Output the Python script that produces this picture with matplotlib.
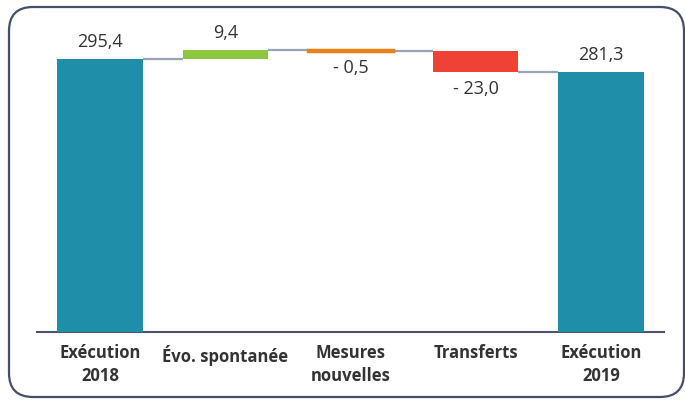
import matplotlib.pyplot as plt
import matplotlib.transforms as mtransforms
from matplotlib.patches import FancyBboxPatch

# Waterfall data
categories = ["Exécution\n2018", "Évo. spontanée", "Mesures\nnouvelles", "Transferts", "Exécution\n2019"]
values = [295.4, 9.4, -0.5, -23.0, 281.3]
kinds = ["total", "delta", "delta", "delta", "total"]
labels = ["295,4", "9,4", "- 0,5", "- 23,0", "281,3"]
colors = ["#1f8ea8", "#8dc63f", "#e8821e", "#ef4136", "#1f8ea8"]

fig = plt.figure(figsize=(6.85, 4), dpi=100)
ax = fig.add_axes([37 / 685, 68 / 400, 627 / 685, 312 / 400])

width = 0.68
bottoms, heights, levels = [], [], []
level = 0.0
for v, k in zip(values, kinds):
    if k == "total":
        bottoms.append(0.0)
        heights.append(v)
        level = v
    else:
        bottoms.append(level if v > 0 else level + v)
        heights.append(abs(v))
        level += v
    levels.append(level)

x = list(range(len(values)))
bars = ax.bar(x, heights, bottom=bottoms, width=width, color=colors, zorder=3)
# very small change still needs to be visible
bars[2].set_edgecolor(colors[2])
bars[2].set_linewidth(2.5)

# connectors between consecutive bars
for i in range(len(values) - 1):
    ax.plot([i + width / 2, i + 1 - width / 2], [levels[i], levels[i]],
            color="#9aa3b5", lw=1.6, zorder=2, solid_capstyle="butt")

# value labels
for i, (v, k, lab) in enumerate(zip(values, kinds, labels)):
    top = bottoms[i] + heights[i]
    if v >= 0:
        ax.annotate(lab, (i, top), xytext=(0, 6), textcoords="offset points",
                    ha="center", va="bottom", fontsize=13, color="#333333",
                    family="Open Sans")
    else:
        ax.annotate(lab, (i, bottoms[i]), xytext=(0, -6), textcoords="offset points",
                    ha="center", va="top", fontsize=13, color="#333333",
                    family="Open Sans")

ax.set_xlim(-0.503, 4.503)
ax.set_ylim(0, 337.6)
ax.set_xticks(x)
ax.set_xticklabels(categories, fontsize=12, fontweight="bold", color="#333333",
                   family="Open Sans", linespacing=1.3)
ax.tick_params(axis="x", length=0, pad=9)
ax.set_yticks([])
for side in ["top", "left", "right"]:
    ax.spines[side].set_visible(False)
ax.spines["bottom"].set_color("#4b5568")
ax.spines["bottom"].set_linewidth(1.5)

# rounded frame around the chart
frame = FancyBboxPatch((9, 3), 675, 390, boxstyle="round,pad=0,rounding_size=24",
                       transform=mtransforms.IdentityTransform(), fill=False,
                       edgecolor="#44506a", linewidth=1.6)
fig.patches.append(frame)

fig.savefig("out.png", dpi=100)
